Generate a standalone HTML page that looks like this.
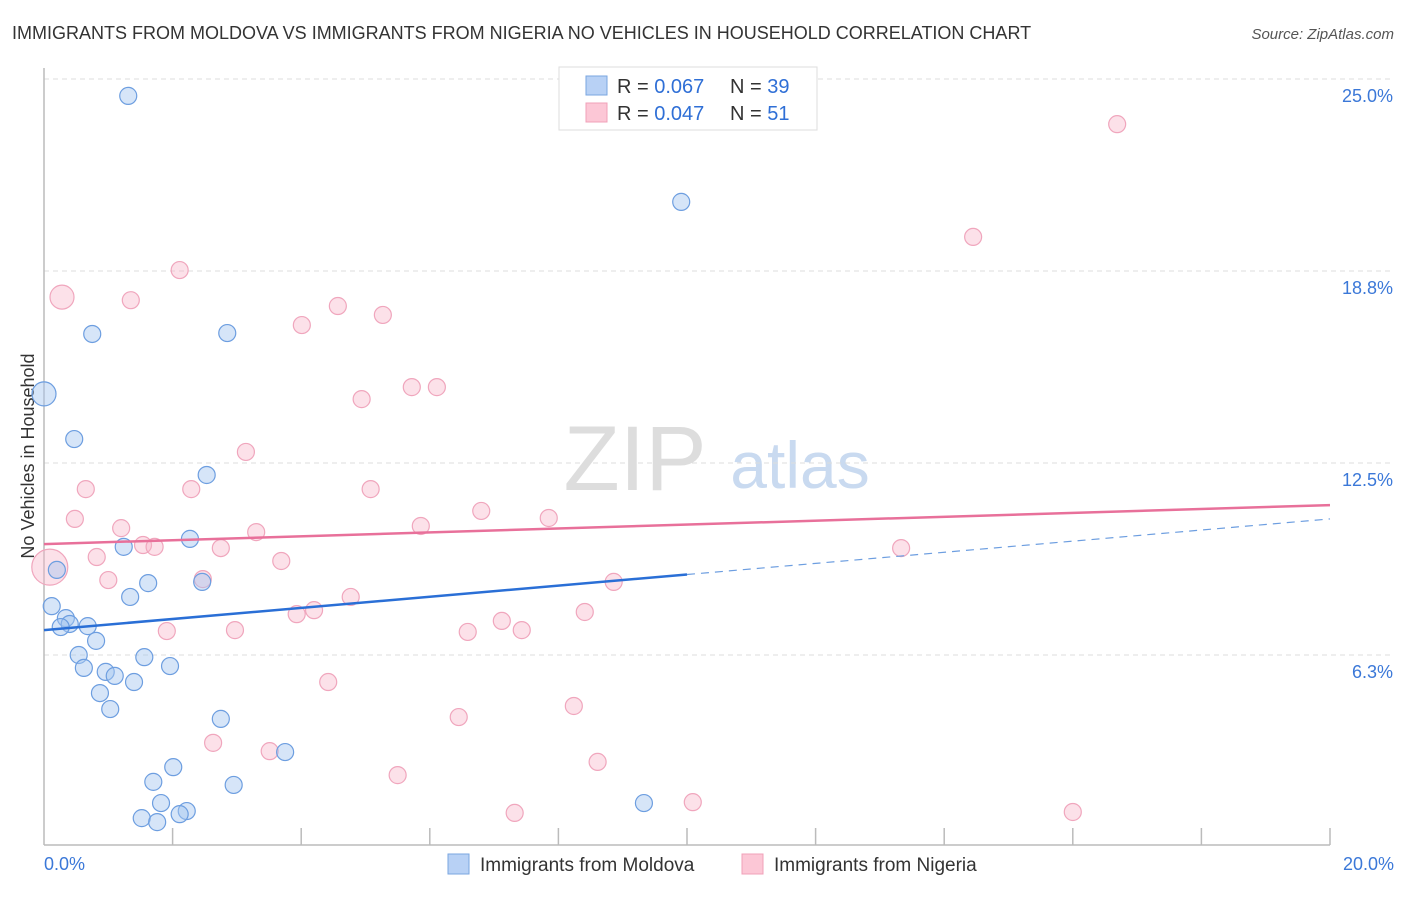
<!DOCTYPE html>
<html><head><meta charset="utf-8"><style>
body{margin:0;background:#fff;font-family:"Liberation Sans",sans-serif;}
svg text{font-family:"Liberation Sans",sans-serif;}
</style></head><body>
<svg id="c" width="1406" height="892" xmlns="http://www.w3.org/2000/svg">
<text x="12" y="39" font-size="18" fill="#333">IMMIGRANTS FROM MOLDOVA VS IMMIGRANTS FROM NIGERIA NO VEHICLES IN HOUSEHOLD CORRELATION CHART</text>
<text x="1394" y="39" font-size="15" fill="#555" font-style="italic" text-anchor="end">Source: ZipAtlas.com</text>
<text x="34" y="456" font-size="18" fill="#333" text-anchor="middle" transform="rotate(-90 34 456)">No Vehicles in Household</text>
<g><text x="635" y="490" font-size="92" fill="#ddd" font-family="Liberation Serif" text-anchor="middle">ZIP</text><text x="800" y="488" font-size="66" fill="#c9daf0" text-anchor="middle">atlas</text></g>
<g id="grid"></g><g id="marks"></g><g id="lines"></g>
<g>
<rect x="559" y="67" width="258" height="63" fill="#fff" stroke="#ddd"/>
<rect x="586" y="76" width="21" height="19" fill="#b8d1f5" stroke="#7aa6e0"/>
<rect x="586" y="103" width="21" height="19" fill="#fcc7d6" stroke="#f0a0b8"/>
<text x="617" y="93" font-size="20" fill="#333">R = <tspan fill="#2f6fd6">0.067</tspan></text>
<text x="730" y="93" font-size="20" fill="#333">N = <tspan fill="#2f6fd6">39</tspan></text>
<text x="617" y="120" font-size="20" fill="#333">R = <tspan fill="#2f6fd6">0.047</tspan></text>
<text x="730" y="120" font-size="20" fill="#333">N = <tspan fill="#2f6fd6"> 51</tspan></text>
</g>
<g>
<rect x="448" y="854" width="21" height="20" fill="#b8d1f5" stroke="#7aa6e0"/>
<text x="480" y="871" font-size="19" fill="#333">Immigrants from Moldova</text>
<rect x="742" y="854" width="21" height="20" fill="#fcc7d6" stroke="#f0a0b8"/>
<text x="774" y="871" font-size="19" fill="#333">Immigrants from Nigeria</text>
</g>
</svg>
<script>
const xTicks=[0,2,4,6,8,10,12,14,16,18,20];
const yTicks=[6.25,12.5,18.75,25];
const yTickLabels=["6.3%","12.5%","18.8%","25.0%"];
const moldovaX=[1.31,9.91,0.75,2.85,0,0.47,2.53,2.27,1.24,0.2,1.62,2.46,1.34,0.12,0.34,0.40,0.26,0.68,0.81,0.54,1.56,0.62,0.96,1.10,1.96,1.40,0.87,1.03,2.75,3.75,2.01,1.70,2.95,1.82,2.22,2.11,1.52,1.76,9.33];
const moldovaY=[24.45,21.0,16.7,16.73,14.75,13.28,12.11,10.03,9.77,9.02,8.59,8.63,8.14,7.84,7.45,7.26,7.16,7.19,6.71,6.25,6.18,5.83,5.70,5.57,5.89,5.37,5.01,4.49,4.17,3.09,2.60,2.12,2.02,1.43,1.17,1.07,0.94,0.81,1.43];
const nigeriaX=[16.69,14.45,2.11,0.28,1.35,4.57,4.01,5.27,5.72,6.11,4.94,3.14,0.65,2.29,5.08,6.80,7.85,0.48,5.86,1.20,3.30,1.54,1.72,2.75,0.82,13.33,0.09,3.69,1.0,2.47,8.86,4.77,4.20,3.93,8.41,7.12,1.91,2.97,6.59,7.43,4.42,8.24,6.45,2.63,3.51,5.50,8.61,10.09,7.32,16.0,11.34];
const nigeriaY=[23.53,19.86,18.78,17.9,17.8,17.61,16.99,17.32,14.97,14.97,14.58,12.86,11.65,11.65,11.65,10.94,10.71,10.68,10.45,10.38,10.25,9.83,9.77,9.73,9.44,9.73,9.11,9.31,8.69,8.72,8.63,8.14,7.71,7.58,7.65,7.36,7.03,7.06,7.0,7.06,5.37,4.59,4.23,3.39,3.12,2.34,2.77,1.46,1.11,1.14,24.97];
const moldovaTrend=[7.06,10.68];
const nigeriaTrend=[9.86,11.13];
const X=v=>44+v/20*1286, Y=v=>847-v/25*768;
const NS="http://www.w3.org/2000/svg";
function mk(t,a,p){const e=document.createElementNS(NS,t);for(const k in a)e.setAttribute(k,a[k]);p.appendChild(e);return e;}
const g=document.getElementById('grid');
yTicks.forEach((t,i)=>{
 const l=mk('line',{x1:44,x2:1394,y1:Y(t),y2:Y(t),stroke:'#ddd','stroke-dasharray':'5,4'},g);
 
 
 const tx=mk('text',{x:1393,y:Y(t)+23,'font-size':18,fill:'#3b78d8','text-anchor':'end'},g);
 tx.textContent=yTickLabels[i];
 
 
});
const ax=mk('line',{x1:44,x2:44,y1:68,y2:845,stroke:'#bbb','stroke-width':1.5},g);


const bx=mk('line',{x1:44,x2:1330,y1:845,y2:845,stroke:'#bbb','stroke-width':1.5},g);


xTicks.forEach((t,i)=>{if(i===0)return;
 const l=mk('line',{x1:X(t),x2:X(t),y1:828,y2:845,stroke:'#bbb','stroke-width':1.5},g);
 
 
});
[[0,'0.0%','start',44],[20,'20.0%','end',1394]].forEach(a=>{
 const tx=mk('text',{x:a[3],y:870,'font-size':18,fill:'#3b78d8','text-anchor':a[2]},g);
 tx.textContent=a[1];
 
 
});
const m=document.getElementById('marks');
nigeriaX.forEach((x,i)=>{const r=i===26?18:(i===3?12:8.5);
 const c=mk('circle',{cx:X(x),cy:Y(nigeriaY[i]),r:r,fill:'rgba(248,180,200,0.4)',stroke:'#f0a6bd','stroke-width':1.2},m);
 
 
});
moldovaX.forEach((x,i)=>{const r=i===4?12:8.5;
 const c=mk('circle',{cx:X(x),cy:Y(moldovaY[i]),r:r,fill:'rgba(164,198,240,0.45)',stroke:'#6d9ee0','stroke-width':1.2},m);
 
 
});
const L=document.getElementById('lines');
const mAt=x=>moldovaTrend[0]+(moldovaTrend[1]-moldovaTrend[0])*x/20;
let e=mk('line',{x1:X(0),y1:Y(mAt(0)),x2:X(10),y2:Y(mAt(10)),stroke:'#2a6fd6','stroke-width':2.5},L);


e=mk('line',{x1:X(10),y1:Y(mAt(10)),x2:X(20),y2:Y(mAt(20)),stroke:'#6d9ee0','stroke-width':1.2,'stroke-dasharray':'8,6'},L);


e=mk('line',{x1:X(0),y1:Y(nigeriaTrend[0]),x2:X(20),y2:Y(nigeriaTrend[1]),stroke:'#e8709a','stroke-width':2.5},L);


</script>
</body></html>
